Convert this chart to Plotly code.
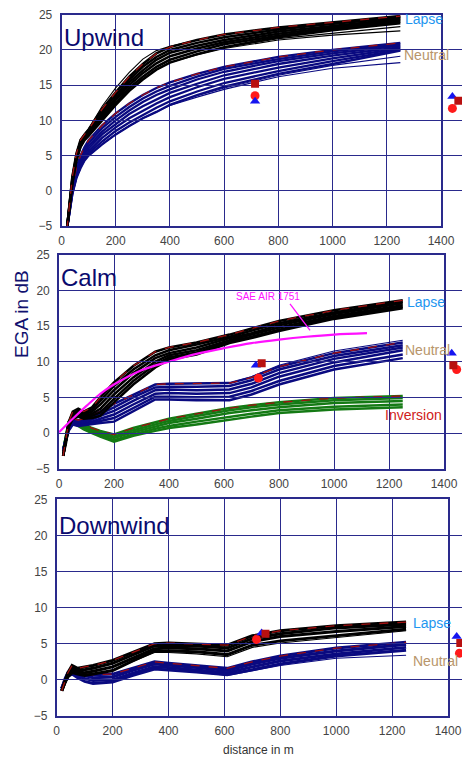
import plotly.graph_objects as go

# ---------------- DATA ----------------
# Upwind panel
UP_X = [20, 30, 40, 55, 70, 85, 100, 150, 200, 250, 300, 350, 400, 500, 600, 800, 1000, 1250]
UP_LAPSE = [
    [-5.5, -2.0, 2.0, 5.3, 7.2, 8.0, 8.7, 11.6, 14.0, 16.2, 18.0, 19.5, 20.4, 21.4, 22.2, 23.2, 23.9, 24.8],
    [-5.4, -2.2, 1.8, 5.0, 6.9, 7.8, 8.5, 11.3, 13.6, 15.8, 17.6, 19.0, 20.0, 21.0, 21.8, 22.9, 23.7, 24.6],
    [-5.4, -2.3, 1.6, 4.8, 6.7, 7.6, 8.3, 10.9, 13.2, 15.4, 17.1, 18.6, 19.6, 20.6, 21.4, 22.6, 23.4, 24.4],
    [-5.5, -2.4, 1.4, 4.6, 6.5, 7.5, 8.1, 10.6, 12.9, 15.0, 16.7, 18.1, 19.1, 20.2, 21.1, 22.3, 23.2, 24.2],
    [-5.5, -2.4, 1.2, 4.4, 6.3, 7.3, 7.9, 10.3, 12.5, 14.6, 16.2, 17.6, 18.6, 19.8, 20.8, 22.0, 23.0, 24.0],
    [-5.5, -2.5, 1.0, 4.3, 6.2, 7.2, 7.8, 10.0, 12.2, 14.2, 15.8, 17.2, 18.2, 19.4, 20.4, 21.8, 22.8, 23.8],
]
UP_LAPSE_THIN = [
    [-5.5, -2.0, 2.0, 5.4, 7.3, 8.1, 8.8, 12.0, 14.6, 16.8, 18.7, 19.9, 20.5, 21.4, 22.2, 23.1, 23.6, 24.6],
    [-5.5, -2.5, 1.0, 4.3, 6.2, 7.2, 7.8, 10.0, 12.2, 14.2, 15.8, 17.2, 18.2, 19.4, 20.3, 21.6, 22.4, 23.3],
    [-5.5, -2.5, 1.0, 4.3, 6.2, 7.2, 7.8, 10.0, 12.2, 14.2, 15.8, 17.2, 18.2, 19.3, 20.2, 21.4, 22.1, 22.7],
]
UP_NEUTRAL = [
    [-5.5, -2.5, 0.5, 3.3, 5.0, 6.2, 7.2, 9.3, 11.0, 12.4, 13.6, 14.6, 15.4, 16.6, 17.6, 19.0, 20.0, 21.0],
    [-5.5, -2.6, 0.3, 3.0, 4.7, 5.9, 6.8, 8.9, 10.5, 11.9, 13.1, 14.1, 14.9, 16.2, 17.3, 18.7, 19.8, 20.8],
    [-5.5, -2.7, 0.1, 2.7, 4.4, 5.5, 6.4, 8.4, 10.0, 11.4, 12.6, 13.6, 14.4, 15.8, 16.9, 18.4, 19.5, 20.6],
    [-5.5, -2.8, 0.0, 2.5, 4.1, 5.2, 6.0, 8.0, 9.5, 10.9, 12.0, 13.0, 13.9, 15.2, 16.4, 18.0, 19.2, 20.4],
    [-5.5, -2.9, -0.2, 2.2, 3.8, 4.9, 5.6, 7.5, 9.0, 10.3, 11.4, 12.4, 13.3, 14.7, 15.9, 17.5, 18.8, 20.2],
    [-5.5, -2.9, -0.4, 2.0, 3.5, 4.6, 5.3, 7.0, 8.5, 9.7, 10.8, 11.8, 12.7, 14.1, 15.3, 17.0, 18.4, 20.0],
    [-5.5, -3.0, -0.5, 1.8, 3.2, 4.3, 5.0, 6.6, 8.0, 9.2, 10.3, 11.2, 12.2, 13.6, 14.8, 16.6, 18.0, 19.9],
]
UP_NEUTRAL_THIN = [
    [-5.5, -3.0, -0.5, 1.8, 3.2, 4.3, 5.0, 6.6, 8.0, 9.2, 10.3, 11.2, 12.2, 13.5, 14.6, 16.4, 17.8, 19.1],
    [-5.5, -3.0, -0.5, 1.8, 3.2, 4.3, 5.0, 6.6, 8.0, 9.2, 10.3, 11.2, 12.1, 13.3, 14.4, 16.2, 17.4, 18.2],
]

# Calm panel
CALM_X = [15, 25, 35, 50, 70, 90, 120, 150, 200, 270, 350, 400, 500, 620, 700, 800, 1000, 1250]
CALM_LAPSE = [
    [-3.2, -1.0, 1.5, 3.0, 3.4, 3.0, 3.6, 5.0, 7.1, 9.4, 11.4, 12.0, 12.7, 13.8, 14.6, 15.7, 17.2, 18.6],
    [-3.2, -1.1, 1.4, 2.8, 3.2, 2.8, 3.3, 4.5, 6.6, 8.9, 10.9, 11.6, 12.4, 13.5, 14.3, 15.4, 16.9, 18.4],
    [-3.2, -1.2, 1.2, 2.6, 3.0, 2.6, 3.0, 4.0, 6.0, 8.4, 10.5, 11.2, 12.0, 13.3, 14.0, 15.1, 16.7, 18.2],
    [-3.2, -1.3, 1.1, 2.4, 2.7, 2.4, 2.7, 3.4, 5.4, 7.8, 10.0, 10.9, 11.6, 13.0, 13.8, 14.8, 16.4, 17.9],
    [-3.2, -1.4, 0.9, 2.2, 2.5, 2.2, 2.4, 2.9, 4.8, 7.3, 9.6, 10.6, 11.3, 12.8, 13.5, 14.5, 16.2, 17.7],
    [-3.2, -1.5, 0.8, 2.0, 2.3, 2.0, 2.1, 2.4, 4.3, 6.8, 9.2, 10.3, 11.0, 12.6, 13.3, 14.3, 16.0, 17.5],
]
CALM_NEUTRAL = [
    [-2.5, -0.8, 1.0, 2.0, 1.8, 2.0, 2.5, 3.0, 4.1, 5.4, 6.8, 6.9, 6.9, 7.0, 7.8, 9.3, 11.2, 12.7],
    [-2.5, -0.9, 0.9, 1.9, 1.7, 1.8, 2.2, 2.7, 3.6, 5.0, 6.4, 6.5, 6.5, 6.6, 7.4, 8.9, 10.8, 12.3],
    [-2.5, -1.0, 0.7, 1.7, 1.5, 1.6, 1.9, 2.4, 3.1, 4.5, 6.0, 6.1, 6.0, 6.1, 6.9, 8.4, 10.4, 12.0],
    [-2.5, -1.0, 0.6, 1.5, 1.3, 1.4, 1.6, 2.0, 2.6, 4.0, 5.5, 5.6, 5.5, 5.6, 6.4, 7.9, 9.9, 11.6],
    [-2.5, -1.1, 0.4, 1.3, 1.1, 1.2, 1.4, 1.7, 2.1, 3.5, 5.1, 5.1, 5.0, 5.1, 5.9, 7.3, 9.4, 11.0],
    [-2.5, -1.2, 0.3, 1.2, 1.0, 1.1, 1.2, 1.4, 1.6, 3.0, 4.7, 4.7, 4.6, 4.6, 5.4, 6.8, 8.9, 10.5],
]
CALM_NEUTRAL_THIN = [
    [-2.5, -0.8, 1.0, 2.0, 1.8, 2.0, 2.5, 3.0, 4.1, 5.4, 6.8, 6.9, 6.9, 7.0, 7.9, 9.5, 11.5, 13.0],
]
CALM_INVERSION = [
    [-2.5, -0.5, 1.6, 2.0, 1.6, 1.2, 0.7, 0.3, -0.2, 0.7, 1.5, 2.0, 2.7, 3.5, 3.9, 4.3, 4.9, 5.2],
    [-2.5, -0.6, 1.5, 1.8, 1.4, 1.0, 0.5, 0.1, -0.5, 0.4, 1.2, 1.7, 2.4, 3.2, 3.6, 4.0, 4.6, 4.9],
    [-2.5, -0.7, 1.3, 1.6, 1.3, 0.8, 0.3, -0.1, -0.7, 0.1, 0.9, 1.4, 2.0, 2.8, 3.2, 3.6, 4.2, 4.5],
    [-2.5, -0.9, 1.1, 1.4, 1.1, 0.6, 0.1, -0.3, -1.0, -0.2, 0.6, 1.0, 1.6, 2.3, 2.7, 3.2, 3.7, 4.0],
    [-2.5, -1.0, 1.0, 1.3, 1.0, 0.5, 0.0, -0.5, -1.2, -0.4, 0.3, 0.7, 1.2, 1.9, 2.3, 2.8, 3.3, 3.6],
]
SAE_X = [0, 50, 100, 150, 200, 300, 400, 500, 600, 700, 800, 900, 1000, 1120]
SAE_Y = [0.1, 2.0, 3.8, 5.5, 6.8, 8.8, 10.0, 11.1, 11.9, 12.6, 13.1, 13.5, 13.8, 14.0]

# Downwind panel
DW_X = [18, 30, 40, 55, 75, 100, 130, 200, 270, 350, 400, 500, 610, 700, 800, 1000, 1250]
DW_LAPSE = [
    [-1.5, 0.0, 1.0, 2.0, 1.6, 1.8, 2.0, 2.7, 3.8, 5.0, 5.1, 5.0, 4.8, 6.1, 6.8, 7.5, 8.0],
    [-1.5, -0.1, 0.8, 1.7, 1.4, 1.4, 1.6, 2.3, 3.4, 4.7, 4.8, 4.7, 4.4, 5.7, 6.4, 7.2, 7.7],
    [-1.5, -0.2, 0.6, 1.4, 1.1, 1.0, 1.2, 1.8, 3.0, 4.3, 4.4, 4.3, 4.0, 5.3, 6.0, 6.7, 7.4],
    [-1.5, -0.3, 0.4, 1.0, 0.8, 0.6, 0.8, 1.3, 2.6, 4.0, 4.0, 3.9, 3.5, 4.8, 5.4, 6.1, 7.0],
]
DW_LAPSE_THIN = [
    [-1.5, -0.3, 0.4, 1.0, 0.8, 0.6, 0.8, 1.3, 2.5, 3.8, 3.8, 3.6, 3.2, 4.5, 5.1, 5.9, 6.8],
]
DW_NEUTRAL = [
    [-1.2, 0.2, 1.0, 1.5, 1.2, 0.9, 0.7, 0.8, 1.6, 2.5, 2.3, 2.0, 1.6, 2.5, 3.3, 4.4, 5.2],
    [-1.2, 0.1, 0.9, 1.3, 0.9, 0.6, 0.3, 0.4, 1.3, 2.2, 2.0, 1.7, 1.3, 2.2, 3.0, 4.0, 4.9],
    [-1.2, 0.0, 0.7, 1.0, 0.6, 0.2, -0.1, 0.0, 0.9, 1.8, 1.7, 1.4, 1.0, 1.8, 2.6, 3.6, 4.5],
    [-1.2, -0.2, 0.5, 0.8, 0.3, -0.2, -0.5, -0.3, 0.6, 1.5, 1.4, 1.1, 0.7, 1.4, 2.2, 3.3, 4.1],
]
DW_NEUTRAL_THIN = [
    [-1.2, -0.2, 0.5, 0.8, 0.3, -0.2, -0.5, -0.3, 0.6, 1.5, 1.4, 1.1, 0.6, 1.3, 2.0, 3.0, 3.4],
]

# Measured points (x, y): triangle, square, circle
UP_TRI_X, UP_TRI_Y = [714, 1442], [12.7, 13.4]
UP_SQ_X, UP_SQ_Y = [714, 1464], [15.2, 12.8]
UP_CIR_X, UP_CIR_Y = [714, 1442], [13.5, 11.7]
CALM_TRI_X, CALM_TRI_Y = [716, 1428], [9.5, 11.2]
CALM_SQ_X, CALM_SQ_Y = [737, 1434], [9.8, 9.5]
CALM_CIR_X, CALM_CIR_Y = [725, 1446], [7.7, 8.9]
DW_TRI_X, DW_TRI_Y = [733, 1431], [6.5, 6.0]
DW_SQ_X, DW_SQ_Y = [747, 1444], [6.4, 5.1]
DW_CIR_X, DW_CIR_Y = [715, 1441], [5.6, 3.7]

X_TICKS = [0, 200, 400, 600, 800, 1000, 1200, 1400]
Y_TICKS = [-5, 0, 5, 10, 15, 20, 25]

# ---------------- STYLE ----------------
W, H = 462, 758
PANELS = {1: (61.5, 441, 14.7, 226), 2: (59, 444, 254.7, 468.7), 3: (56.7, 448, 499.3, 716)}
X_MAX = 1400
GRID = "#2a2a8c"
BLACK, NAVY, GREEN, EDGE = "#000000", "#0a0a80", "#147a14", "#a01010"
FONT = "Liberation Sans, Arial, sans-serif"

fig = go.Figure()


def axes(i):
    return ("x", "y") if i == 1 else (f"x{i}", f"y{i}")


def bundle(xs, lines, color, width, i, edge=True, thin=None):
    xa, ya = axes(i)
    for ys in thin or []:
        fig.add_trace(go.Scatter(x=xs, y=ys, mode="lines", line=dict(color=color, width=1.1),
                                 xaxis=xa, yaxis=ya, hoverinfo="skip"))
    for ys in lines:
        fig.add_trace(go.Scatter(x=xs, y=ys, mode="lines", line=dict(color=color, width=width),
                                 xaxis=xa, yaxis=ya, hoverinfo="skip"))
    if edge:
        fig.add_trace(go.Scatter(x=xs, y=lines[0], mode="lines",
                                 line=dict(color=EDGE, width=1.3, dash="dash"),
                                 xaxis=xa, yaxis=ya, hoverinfo="skip"))


def points(i, tx, ty, sx, sy, cx, cy):
    # markers live on an extended, invisible x-axis so points beyond 1400 stay visible
    xa = f"x{i + 3}"
    ya = axes(i)[1]
    fig.add_trace(go.Scatter(x=cx, y=cy, mode="markers",
                             marker=dict(symbol="circle", size=9, color="#ff1a1a"), xaxis=xa, yaxis=ya))
    fig.add_trace(go.Scatter(x=tx, y=ty, mode="markers",
                             marker=dict(symbol="triangle-up", size=9, color="#1515f0"), xaxis=xa, yaxis=ya))
    fig.add_trace(go.Scatter(x=sx, y=sy, mode="markers",
                             marker=dict(symbol="square", size=8, color="#b81010"), xaxis=xa, yaxis=ya))


# Upwind
bundle(UP_X, UP_NEUTRAL, NAVY, 2.3, 1, thin=UP_NEUTRAL_THIN)
bundle(UP_X, UP_LAPSE, BLACK, 2.5, 1, thin=UP_LAPSE_THIN)
points(1, UP_TRI_X, UP_TRI_Y, UP_SQ_X, UP_SQ_Y, UP_CIR_X, UP_CIR_Y)

# Calm
bundle(CALM_X, CALM_INVERSION, GREEN, 2.5, 2)
bundle(CALM_X, CALM_NEUTRAL, NAVY, 2.5, 2, thin=CALM_NEUTRAL_THIN)
bundle(CALM_X, CALM_LAPSE, BLACK, 2.5, 2)
fig.add_trace(go.Scatter(x=SAE_X, y=SAE_Y, mode="lines", line=dict(color="#ff10ff", width=2.2),
                         line_shape="spline", xaxis="x2", yaxis="y2", hoverinfo="skip"))
points(2, CALM_TRI_X, CALM_TRI_Y, CALM_SQ_X, CALM_SQ_Y, CALM_CIR_X, CALM_CIR_Y)

# Downwind
bundle(DW_X, DW_NEUTRAL, NAVY, 3.0, 3, thin=DW_NEUTRAL_THIN)
bundle(DW_X, DW_LAPSE, BLACK, 3.0, 3, thin=DW_LAPSE_THIN)
points(3, DW_TRI_X, DW_TRI_Y, DW_SQ_X, DW_SQ_Y, DW_CIR_X, DW_CIR_Y)

axis_common = dict(showgrid=True, gridcolor=GRID, gridwidth=1.3, showline=True, linecolor=GRID,
                   linewidth=1.6, mirror=True, zeroline=False, ticks="", automargin=False,
                   tickfont=dict(family=FONT, size=12, color="#444444"))
layout = dict(width=W, height=H, margin=dict(l=0, r=0, t=0, b=0, pad=0), showlegend=False,
              paper_bgcolor="white", plot_bgcolor="rgba(0,0,0,0)", template="none")
for i, (l, r, t, b) in PANELS.items():
    sx = "" if i == 1 else str(i)
    layout[f"xaxis{sx}"] = dict(axis_common, domain=[l / W, r / W], range=[0, X_MAX],
                                tickvals=X_TICKS, anchor=f"y{sx}", ticklabelstandoff=3)
    layout[f"yaxis{sx}"] = dict(axis_common, domain=[1 - b / H, 1 - t / H], range=[-5, 25],
                                tickvals=Y_TICKS, anchor=f"x{sx}", ticklabelstandoff=5)
    # extended invisible axis sharing the same scale, reaching the right page edge
    layout[f"xaxis{i + 3}"] = dict(domain=[l / W, 1.0], range=[0, X_MAX * (W - l) / (r - l)],
                                   visible=False, anchor=f"y{sx}", automargin=False, showgrid=False,
                                   zeroline=False)
fig.update_layout(**layout)

TITLE_COLOR = "#0a0a6e"
titles = [("Upwind", "x", "y", 0.89), ("Calm", "x2", "y2", 0.893), ("Downwind", "x3", "y3", 0.881)]
for txt, xa, ya, yy in titles:
    fig.add_annotation(text=txt, xref=f"{xa} domain", yref=f"{ya} domain", x=0.0, y=yy,
                       xanchor="left", yanchor="middle", showarrow=False,
                       font=dict(family=FONT, size=24, color=TITLE_COLOR))

LAPSE_C, NEUTRAL_C, INV_C = "#1e96f0", "#b8956a", "#d02020"
labels = [
    ("Lapse", "x", "y", 1260, 24.4, LAPSE_C), ("Neutral", "x", "y", 1256, 19.3, NEUTRAL_C),
    ("Lapse", "x2", "y2", 1258, 18.4, LAPSE_C), ("Neutral", "x2", "y2", 1251, 11.6, NEUTRAL_C),
    ("Inversion", "x2", "y2", 1178, 2.5, INV_C),
    ("Lapse", "x3", "y3", 1269, 7.9, LAPSE_C), ("Neutral", "x3", "y3", 1269, 2.65, NEUTRAL_C),
]
for txt, xa, ya, xx, yy, c in labels:
    fig.add_annotation(text=txt, xref=xa, yref=ya, x=xx, y=yy, xanchor="left", yanchor="middle",
                       showarrow=False, font=dict(family=FONT, size=14, color=c))

# SAE label with leader line
fig.add_annotation(text="SAE AIR 1751", xref="x2", yref="y2", x=760, y=19.1, showarrow=False,
                   font=dict(family=FONT, size=10, color="#ff10ff"))
fig.add_shape(type="line", xref="x2", yref="y2", x0=840, y0=18.1, x1=913, y1=14.4,
              line=dict(color="#ff10ff", width=1.3))

fig.add_annotation(text="EGA in dB", xref="paper", yref="paper", x=22 / W, y=1 - 314 / H,
                   textangle=-90, showarrow=False, xanchor="center", yanchor="middle",
                   font=dict(family=FONT, size=19, color="#10106e"))
fig.add_annotation(text="distance in m", xref="paper", yref="paper", x=258 / W, y=1 - 750 / H,
                   showarrow=False, xanchor="center", yanchor="middle",
                   font=dict(family=FONT, size=12, color="#333333"))

fig.write_html("out.html", config={"displayModeBar": False},
               post_script="document.body.style.margin='0px';")
